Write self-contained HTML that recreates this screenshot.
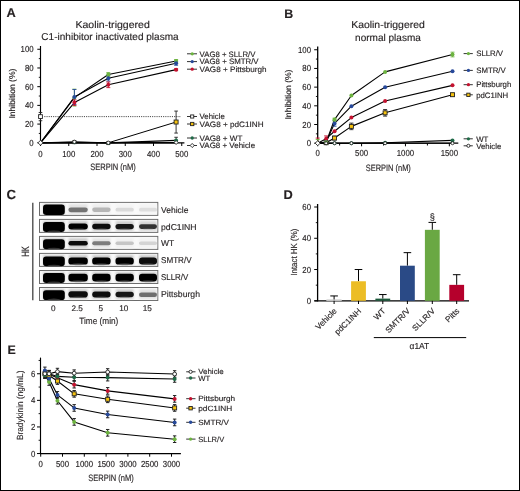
<!DOCTYPE html>
<html><head><meta charset="utf-8"><style>
html,body{margin:0;padding:0;background:#fff;}
svg{display:block;font-family:"Liberation Sans", sans-serif;text-rendering:geometricPrecision;}
</style></head><body>
<svg width="520" height="491" viewBox="0 0 520 491" fill="#231f20">
<rect x="0" y="0" width="520" height="491" fill="#fff"/>
<line x1="40.50" y1="46.00" x2="40.50" y2="143.40" stroke="#000" stroke-width="1.15"/>
<line x1="37.30" y1="142.80" x2="40.50" y2="142.80" stroke="#000" stroke-width="1"/>
<line x1="37.30" y1="124.09" x2="40.50" y2="124.09" stroke="#000" stroke-width="1"/>
<line x1="37.30" y1="105.38" x2="40.50" y2="105.38" stroke="#000" stroke-width="1"/>
<line x1="37.30" y1="86.68" x2="40.50" y2="86.68" stroke="#000" stroke-width="1"/>
<line x1="37.30" y1="67.97" x2="40.50" y2="67.97" stroke="#000" stroke-width="1"/>
<line x1="37.30" y1="49.26" x2="40.50" y2="49.26" stroke="#000" stroke-width="1"/>
<line x1="38.80" y1="133.45" x2="40.50" y2="133.45" stroke="#000" stroke-width="0.9"/>
<line x1="38.80" y1="114.74" x2="40.50" y2="114.74" stroke="#000" stroke-width="0.9"/>
<line x1="38.80" y1="96.03" x2="40.50" y2="96.03" stroke="#000" stroke-width="0.9"/>
<line x1="38.80" y1="77.32" x2="40.50" y2="77.32" stroke="#000" stroke-width="0.9"/>
<line x1="38.80" y1="58.61" x2="40.50" y2="58.61" stroke="#000" stroke-width="0.9"/>
<line x1="39.90" y1="142.80" x2="184.40" y2="142.80" stroke="#000" stroke-width="1.2"/>
<line x1="40.50" y1="142.80" x2="40.50" y2="146.00" stroke="#000" stroke-width="1.0"/>
<line x1="68.75" y1="142.80" x2="68.75" y2="146.00" stroke="#000" stroke-width="1.0"/>
<line x1="97.00" y1="142.80" x2="97.00" y2="146.00" stroke="#000" stroke-width="1.0"/>
<line x1="125.25" y1="142.80" x2="125.25" y2="146.00" stroke="#000" stroke-width="1.0"/>
<line x1="153.50" y1="142.80" x2="153.50" y2="146.00" stroke="#000" stroke-width="1.0"/>
<line x1="181.75" y1="142.80" x2="181.75" y2="146.00" stroke="#000" stroke-width="1.0"/>
<line x1="44.30" y1="116.61" x2="181.00" y2="116.61" stroke="#444" stroke-width="1.0" stroke-dasharray="1.1 1.1"/>
<polyline points="40.50,142.80 74.40,142.80 108.30,142.80 176.10,142.80" fill="none" stroke="#000" stroke-width="1.6" stroke-linejoin="round"/>
<polyline points="40.50,142.80 74.40,142.33 108.30,142.80 176.10,140.46" fill="none" stroke="#000" stroke-width="1.2" stroke-linejoin="round"/>
<polyline points="40.50,142.80 74.40,141.86 108.30,142.80 176.10,122.03" fill="none" stroke="#000" stroke-width="1.0" stroke-linejoin="round"/>
<line x1="176.10" y1="111.09" x2="176.10" y2="133.07" stroke="#222" stroke-width="0.9"/>
<line x1="174.30" y1="111.09" x2="177.90" y2="111.09" stroke="#222" stroke-width="0.9"/>
<line x1="174.30" y1="133.07" x2="177.90" y2="133.07" stroke="#222" stroke-width="0.9"/>
<line x1="176.10" y1="137.28" x2="176.10" y2="140.46" stroke="#222" stroke-width="0.9"/>
<line x1="174.30" y1="137.28" x2="177.90" y2="137.28" stroke="#222" stroke-width="0.9"/>
<line x1="174.30" y1="140.46" x2="177.90" y2="140.46" stroke="#222" stroke-width="0.9"/>
<line x1="40.50" y1="112.49" x2="40.50" y2="120.72" stroke="#222" stroke-width="0.9"/>
<line x1="38.70" y1="112.49" x2="42.30" y2="112.49" stroke="#222" stroke-width="0.9"/>
<line x1="38.70" y1="120.72" x2="42.30" y2="120.72" stroke="#222" stroke-width="0.9"/>
<rect x="38.60" y="114.71" width="3.80" height="3.80" fill="#fff" stroke="#222" stroke-width="0.9"/>
<polyline points="40.50,142.80 74.40,97.62 108.30,74.52 176.10,60.95" fill="none" stroke="#000" stroke-width="1.1" stroke-linejoin="round"/>
<polyline points="40.50,142.80 74.40,96.97 108.30,78.26 176.10,63.20" fill="none" stroke="#000" stroke-width="1.1" stroke-linejoin="round"/>
<polyline points="40.50,142.80 74.40,102.58 108.30,84.81 176.10,69.65" fill="none" stroke="#000" stroke-width="1.1" stroke-linejoin="round"/>
<line x1="74.40" y1="89.20" x2="74.40" y2="106.04" stroke="#6cb33f" stroke-width="0.9"/>
<line x1="72.40" y1="89.20" x2="76.40" y2="89.20" stroke="#6cb33f" stroke-width="0.9"/>
<line x1="72.40" y1="106.04" x2="76.40" y2="106.04" stroke="#6cb33f" stroke-width="0.9"/>
<line x1="108.30" y1="72.65" x2="108.30" y2="76.39" stroke="#6cb33f" stroke-width="0.9"/>
<line x1="106.30" y1="72.65" x2="110.30" y2="72.65" stroke="#6cb33f" stroke-width="0.9"/>
<line x1="106.30" y1="76.39" x2="110.30" y2="76.39" stroke="#6cb33f" stroke-width="0.9"/>
<line x1="176.10" y1="59.55" x2="176.10" y2="62.36" stroke="#6cb33f" stroke-width="0.9"/>
<line x1="174.10" y1="59.55" x2="178.10" y2="59.55" stroke="#6cb33f" stroke-width="0.9"/>
<line x1="174.10" y1="62.36" x2="178.10" y2="62.36" stroke="#6cb33f" stroke-width="0.9"/>
<line x1="74.40" y1="89.48" x2="74.40" y2="104.45" stroke="#27499a" stroke-width="0.9"/>
<line x1="72.40" y1="89.48" x2="76.40" y2="89.48" stroke="#27499a" stroke-width="0.9"/>
<line x1="72.40" y1="104.45" x2="76.40" y2="104.45" stroke="#27499a" stroke-width="0.9"/>
<line x1="108.30" y1="75.45" x2="108.30" y2="81.06" stroke="#27499a" stroke-width="0.9"/>
<line x1="106.30" y1="75.45" x2="110.30" y2="75.45" stroke="#27499a" stroke-width="0.9"/>
<line x1="106.30" y1="81.06" x2="110.30" y2="81.06" stroke="#27499a" stroke-width="0.9"/>
<line x1="176.10" y1="61.14" x2="176.10" y2="65.26" stroke="#27499a" stroke-width="0.9"/>
<line x1="174.10" y1="61.14" x2="178.10" y2="61.14" stroke="#27499a" stroke-width="0.9"/>
<line x1="174.10" y1="65.26" x2="178.10" y2="65.26" stroke="#27499a" stroke-width="0.9"/>
<line x1="74.40" y1="99.77" x2="74.40" y2="105.38" stroke="#c4122f" stroke-width="0.9"/>
<line x1="72.40" y1="99.77" x2="76.40" y2="99.77" stroke="#c4122f" stroke-width="0.9"/>
<line x1="72.40" y1="105.38" x2="76.40" y2="105.38" stroke="#c4122f" stroke-width="0.9"/>
<line x1="108.30" y1="82.00" x2="108.30" y2="87.61" stroke="#c4122f" stroke-width="0.9"/>
<line x1="106.30" y1="82.00" x2="110.30" y2="82.00" stroke="#c4122f" stroke-width="0.9"/>
<line x1="106.30" y1="87.61" x2="110.30" y2="87.61" stroke="#c4122f" stroke-width="0.9"/>
<line x1="176.10" y1="68.72" x2="176.10" y2="70.59" stroke="#c4122f" stroke-width="0.9"/>
<line x1="174.10" y1="68.72" x2="178.10" y2="68.72" stroke="#c4122f" stroke-width="0.9"/>
<line x1="174.10" y1="70.59" x2="178.10" y2="70.59" stroke="#c4122f" stroke-width="0.9"/>
<circle cx="74.40" cy="97.62" r="2.00" fill="#6cb33f"/>
<circle cx="108.30" cy="74.52" r="2.00" fill="#6cb33f"/>
<circle cx="176.10" cy="60.95" r="2.00" fill="#6cb33f"/>
<circle cx="74.40" cy="96.97" r="2.00" fill="#27499a"/>
<circle cx="108.30" cy="78.26" r="2.00" fill="#27499a"/>
<circle cx="176.10" cy="63.20" r="2.00" fill="#27499a"/>
<circle cx="74.40" cy="102.58" r="2.00" fill="#c4122f"/>
<circle cx="108.30" cy="84.81" r="2.00" fill="#c4122f"/>
<circle cx="176.10" cy="69.65" r="2.00" fill="#c4122f"/>
<rect x="72.90" y="140.66" width="3.00" height="3.00" fill="#f5c20f" stroke="#222" stroke-width="0.9"/>
<circle cx="74.40" cy="142.46" r="1.70" fill="#1f6a47"/>
<circle cx="74.40" cy="141.86" r="1.71" fill="#fff" stroke="#222" stroke-width="0.9"/>
<rect x="106.80" y="141.60" width="3.00" height="3.00" fill="#f5c20f" stroke="#222" stroke-width="0.9"/>
<circle cx="108.30" cy="143.40" r="1.70" fill="#1f6a47"/>
<circle cx="108.30" cy="142.80" r="1.71" fill="#fff" stroke="#222" stroke-width="0.9"/>
<rect x="174.10" y="120.03" width="4.00" height="4.00" fill="#f5c20f" stroke="#222" stroke-width="0.9"/>
<circle cx="176.10" cy="140.46" r="2.00" fill="#1f6a47"/>
<path d="M176.10 140.50L178.10 142.50L176.10 144.50L174.10 142.50Z" fill="#fff" stroke="#222" stroke-width="0.9"/>
<path d="M40.50 140.30L43.00 142.80L40.50 145.30L38.00 142.80Z" fill="#fff" stroke="#222" stroke-width="0.9"/>
<line x1="187.00" y1="53.80" x2="197.00" y2="53.80" stroke="#333" stroke-width="1"/>
<circle cx="192.20" cy="53.80" r="1.64" fill="#6cb33f"/>
<line x1="187.00" y1="61.60" x2="197.00" y2="61.60" stroke="#333" stroke-width="1"/>
<circle cx="192.20" cy="61.60" r="1.64" fill="#27499a"/>
<line x1="187.00" y1="69.20" x2="197.00" y2="69.20" stroke="#333" stroke-width="1"/>
<circle cx="192.20" cy="69.20" r="1.64" fill="#c4122f"/>
<line x1="187.00" y1="116.50" x2="197.00" y2="116.50" stroke="#333" stroke-width="1"/>
<rect x="190.64" y="114.94" width="3.12" height="3.12" fill="#fff" stroke="#222" stroke-width="0.9"/>
<line x1="187.00" y1="124.00" x2="197.00" y2="124.00" stroke="#333" stroke-width="1"/>
<rect x="190.56" y="122.36" width="3.28" height="3.28" fill="#f5c20f" stroke="#222" stroke-width="0.9"/>
<line x1="187.00" y1="138.00" x2="197.00" y2="138.00" stroke="#333" stroke-width="1"/>
<circle cx="192.20" cy="138.00" r="1.64" fill="#1f6a47"/>
<line x1="187.00" y1="145.50" x2="197.00" y2="145.50" stroke="#333" stroke-width="1"/>
<path d="M192.20 143.45L194.25 145.50L192.20 147.55L190.15 145.50Z" fill="#fff" stroke="#222" stroke-width="0.9"/>
<line x1="317.70" y1="46.40" x2="317.70" y2="143.80" stroke="#000" stroke-width="1.3"/>
<line x1="314.20" y1="143.20" x2="317.70" y2="143.20" stroke="#000" stroke-width="1"/>
<line x1="314.20" y1="124.51" x2="317.70" y2="124.51" stroke="#000" stroke-width="1"/>
<line x1="314.20" y1="105.82" x2="317.70" y2="105.82" stroke="#000" stroke-width="1"/>
<line x1="314.20" y1="87.13" x2="317.70" y2="87.13" stroke="#000" stroke-width="1"/>
<line x1="314.20" y1="68.44" x2="317.70" y2="68.44" stroke="#000" stroke-width="1"/>
<line x1="314.20" y1="49.75" x2="317.70" y2="49.75" stroke="#000" stroke-width="1"/>
<line x1="315.90" y1="133.85" x2="317.70" y2="133.85" stroke="#000" stroke-width="0.9"/>
<line x1="315.90" y1="115.16" x2="317.70" y2="115.16" stroke="#000" stroke-width="0.9"/>
<line x1="315.90" y1="96.47" x2="317.70" y2="96.47" stroke="#000" stroke-width="0.9"/>
<line x1="315.90" y1="77.78" x2="317.70" y2="77.78" stroke="#000" stroke-width="0.9"/>
<line x1="315.90" y1="59.09" x2="317.70" y2="59.09" stroke="#000" stroke-width="0.9"/>
<line x1="317.10" y1="143.20" x2="458.30" y2="143.20" stroke="#000" stroke-width="1.2"/>
<line x1="317.70" y1="143.20" x2="317.70" y2="146.30" stroke="#000" stroke-width="1.0"/>
<line x1="339.64" y1="143.20" x2="339.64" y2="145.50" stroke="#000" stroke-width="1.0"/>
<line x1="361.58" y1="143.20" x2="361.58" y2="146.30" stroke="#000" stroke-width="1.0"/>
<line x1="383.52" y1="143.20" x2="383.52" y2="145.50" stroke="#000" stroke-width="1.0"/>
<line x1="405.46" y1="143.20" x2="405.46" y2="146.30" stroke="#000" stroke-width="1.0"/>
<line x1="427.40" y1="143.20" x2="427.40" y2="145.50" stroke="#000" stroke-width="1.0"/>
<line x1="449.34" y1="143.20" x2="449.34" y2="146.30" stroke="#000" stroke-width="1.0"/>
<polyline points="317.70,143.20 326.12,143.20 334.55,143.20 351.40,143.20 385.10,142.73 452.50,140.40" fill="none" stroke="#000" stroke-width="1.1" stroke-linejoin="round"/>
<polyline points="317.70,143.20 326.12,142.73 334.55,138.06 351.40,126.38 385.10,112.83 452.50,94.70" fill="none" stroke="#000" stroke-width="1.1" stroke-linejoin="round"/>
<polyline points="317.70,143.20 326.12,138.71 334.55,131.24 351.40,117.59 385.10,100.96 452.50,85.35" fill="none" stroke="#000" stroke-width="1.1" stroke-linejoin="round"/>
<polyline points="317.70,143.20 326.12,142.27 334.55,123.39 351.40,106.19 385.10,87.32 452.50,71.24" fill="none" stroke="#000" stroke-width="1.1" stroke-linejoin="round"/>
<polyline points="317.70,143.20 326.12,142.27 334.55,119.56 351.40,95.54 385.10,71.90 452.50,54.52" fill="none" stroke="#000" stroke-width="1.1" stroke-linejoin="round"/>
<polyline points="317.70,143.20 326.12,143.20 334.55,143.20 351.40,143.20 385.10,143.20 452.50,143.20" fill="none" stroke="#000" stroke-width="1.1" stroke-linejoin="round"/>
<line x1="334.55" y1="136.19" x2="334.55" y2="139.93" stroke="#222" stroke-width="0.9"/>
<line x1="332.55" y1="136.19" x2="336.55" y2="136.19" stroke="#222" stroke-width="0.9"/>
<line x1="332.55" y1="139.93" x2="336.55" y2="139.93" stroke="#222" stroke-width="0.9"/>
<line x1="351.40" y1="123.11" x2="351.40" y2="129.65" stroke="#222" stroke-width="0.9"/>
<line x1="349.40" y1="123.11" x2="353.40" y2="123.11" stroke="#222" stroke-width="0.9"/>
<line x1="349.40" y1="129.65" x2="353.40" y2="129.65" stroke="#222" stroke-width="0.9"/>
<line x1="385.10" y1="109.56" x2="385.10" y2="116.10" stroke="#222" stroke-width="0.9"/>
<line x1="383.10" y1="109.56" x2="387.10" y2="109.56" stroke="#222" stroke-width="0.9"/>
<line x1="383.10" y1="116.10" x2="387.10" y2="116.10" stroke="#222" stroke-width="0.9"/>
<line x1="452.50" y1="93.30" x2="452.50" y2="96.10" stroke="#222" stroke-width="0.9"/>
<line x1="450.50" y1="93.30" x2="454.50" y2="93.30" stroke="#222" stroke-width="0.9"/>
<line x1="450.50" y1="96.10" x2="454.50" y2="96.10" stroke="#222" stroke-width="0.9"/>
<line x1="317.70" y1="138.06" x2="317.70" y2="143.20" stroke="#c4122f" stroke-width="0.9"/>
<line x1="315.70" y1="138.06" x2="319.70" y2="138.06" stroke="#c4122f" stroke-width="0.9"/>
<line x1="315.70" y1="143.20" x2="319.70" y2="143.20" stroke="#c4122f" stroke-width="0.9"/>
<line x1="326.12" y1="135.91" x2="326.12" y2="141.52" stroke="#c4122f" stroke-width="0.9"/>
<line x1="324.12" y1="135.91" x2="328.12" y2="135.91" stroke="#c4122f" stroke-width="0.9"/>
<line x1="324.12" y1="141.52" x2="328.12" y2="141.52" stroke="#c4122f" stroke-width="0.9"/>
<line x1="334.55" y1="120.59" x2="334.55" y2="126.19" stroke="#27499a" stroke-width="0.9"/>
<line x1="332.55" y1="120.59" x2="336.55" y2="120.59" stroke="#27499a" stroke-width="0.9"/>
<line x1="332.55" y1="126.19" x2="336.55" y2="126.19" stroke="#27499a" stroke-width="0.9"/>
<line x1="317.70" y1="139.46" x2="317.70" y2="143.20" stroke="#6cb33f" stroke-width="0.9"/>
<line x1="315.70" y1="139.46" x2="319.70" y2="139.46" stroke="#6cb33f" stroke-width="0.9"/>
<line x1="315.70" y1="143.20" x2="319.70" y2="143.20" stroke="#6cb33f" stroke-width="0.9"/>
<line x1="334.55" y1="118.16" x2="334.55" y2="120.96" stroke="#6cb33f" stroke-width="0.9"/>
<line x1="332.55" y1="118.16" x2="336.55" y2="118.16" stroke="#6cb33f" stroke-width="0.9"/>
<line x1="332.55" y1="120.96" x2="336.55" y2="120.96" stroke="#6cb33f" stroke-width="0.9"/>
<line x1="452.50" y1="52.18" x2="452.50" y2="56.85" stroke="#6cb33f" stroke-width="0.9"/>
<line x1="450.50" y1="52.18" x2="454.50" y2="52.18" stroke="#6cb33f" stroke-width="0.9"/>
<line x1="450.50" y1="56.85" x2="454.50" y2="56.85" stroke="#6cb33f" stroke-width="0.9"/>
<circle cx="326.12" cy="143.20" r="2.00" fill="#1f6a47"/>
<circle cx="334.55" cy="143.20" r="2.00" fill="#1f6a47"/>
<circle cx="351.40" cy="143.20" r="2.00" fill="#1f6a47"/>
<circle cx="385.10" cy="142.73" r="2.00" fill="#1f6a47"/>
<circle cx="452.50" cy="140.40" r="2.00" fill="#1f6a47"/>
<rect x="324.12" y="140.73" width="4.00" height="4.00" fill="#f5c20f" stroke="#222" stroke-width="0.9"/>
<rect x="332.55" y="136.06" width="4.00" height="4.00" fill="#f5c20f" stroke="#222" stroke-width="0.9"/>
<rect x="349.40" y="124.38" width="4.00" height="4.00" fill="#f5c20f" stroke="#222" stroke-width="0.9"/>
<rect x="383.10" y="110.83" width="4.00" height="4.00" fill="#f5c20f" stroke="#222" stroke-width="0.9"/>
<rect x="450.50" y="92.70" width="4.00" height="4.00" fill="#f5c20f" stroke="#222" stroke-width="0.9"/>
<circle cx="326.12" cy="138.71" r="2.00" fill="#c4122f"/>
<circle cx="334.55" cy="131.24" r="2.00" fill="#c4122f"/>
<circle cx="351.40" cy="117.59" r="2.00" fill="#c4122f"/>
<circle cx="385.10" cy="100.96" r="2.00" fill="#c4122f"/>
<circle cx="452.50" cy="85.35" r="2.00" fill="#c4122f"/>
<circle cx="326.12" cy="142.27" r="2.00" fill="#27499a"/>
<circle cx="334.55" cy="123.39" r="2.00" fill="#27499a"/>
<circle cx="351.40" cy="106.19" r="2.00" fill="#27499a"/>
<circle cx="385.10" cy="87.32" r="2.00" fill="#27499a"/>
<circle cx="452.50" cy="71.24" r="2.00" fill="#27499a"/>
<circle cx="326.12" cy="142.27" r="2.00" fill="#6cb33f"/>
<circle cx="334.55" cy="119.56" r="2.00" fill="#6cb33f"/>
<circle cx="351.40" cy="95.54" r="2.00" fill="#6cb33f"/>
<circle cx="385.10" cy="71.90" r="2.00" fill="#6cb33f"/>
<circle cx="452.50" cy="54.52" r="2.00" fill="#6cb33f"/>
<circle cx="326.12" cy="143.20" r="1.52" fill="#fff" stroke="#222" stroke-width="0.9"/>
<circle cx="334.55" cy="143.20" r="1.52" fill="#fff" stroke="#222" stroke-width="0.9"/>
<circle cx="351.40" cy="143.20" r="1.52" fill="#fff" stroke="#222" stroke-width="0.9"/>
<circle cx="385.10" cy="143.20" r="1.52" fill="#fff" stroke="#222" stroke-width="0.9"/>
<circle cx="452.50" cy="143.20" r="1.52" fill="#fff" stroke="#222" stroke-width="0.9"/>
<path d="M317.70 140.70L320.20 143.20L317.70 145.70L315.20 143.20Z" fill="#fff" stroke="#222" stroke-width="0.9"/>
<line x1="463.60" y1="53.60" x2="472.80" y2="53.60" stroke="#333" stroke-width="1"/>
<circle cx="468.40" cy="53.60" r="1.64" fill="#6cb33f"/>
<line x1="463.60" y1="70.40" x2="472.80" y2="70.40" stroke="#333" stroke-width="1"/>
<circle cx="468.40" cy="70.40" r="1.64" fill="#27499a"/>
<line x1="463.60" y1="84.70" x2="472.80" y2="84.70" stroke="#333" stroke-width="1"/>
<circle cx="468.40" cy="84.70" r="1.64" fill="#c4122f"/>
<line x1="463.60" y1="94.80" x2="472.80" y2="94.80" stroke="#333" stroke-width="1"/>
<rect x="466.76" y="93.16" width="3.28" height="3.28" fill="#f5c20f" stroke="#222" stroke-width="0.9"/>
<line x1="463.60" y1="138.80" x2="472.80" y2="138.80" stroke="#333" stroke-width="1"/>
<circle cx="468.40" cy="138.80" r="1.64" fill="#1f6a47"/>
<line x1="463.60" y1="145.80" x2="472.80" y2="145.80" stroke="#333" stroke-width="1"/>
<circle cx="468.40" cy="145.80" r="1.56" fill="#fff" stroke="#222" stroke-width="0.9"/>
<line x1="32.80" y1="202.70" x2="32.80" y2="300.30" stroke="#444" stroke-width="1.3"/>
<defs><filter id="bl" x="-20%" y="-50%" width="140%" height="200%"><feGaussianBlur stdDeviation="0.75"/></filter><filter id="bl2" x="-30%" y="-80%" width="160%" height="260%"><feGaussianBlur stdDeviation="1.0"/></filter></defs>
<rect x="39.5" y="202.40" width="118.3" height="13" fill="#f9f9f9" stroke="#6a6a6a" stroke-width="1"/>
<rect x="43.30" y="204.20" width="21.20" height="9.6" fill="rgb(195,195,195)" filter="url(#bl2)"/>
<rect x="68.70" y="204.20" width="18.80" height="9.6" fill="rgb(226,226,226)" filter="url(#bl2)"/>
<rect x="92.50" y="204.20" width="17.80" height="9.6" fill="rgb(238,238,238)" filter="url(#bl2)"/>
<rect x="115.80" y="204.20" width="17.70" height="9.6" fill="rgb(244,244,244)" filter="url(#bl2)"/>
<rect x="139.30" y="204.20" width="17.40" height="9.6" fill="rgb(244,244,244)" filter="url(#bl2)"/>
<rect x="43.00" y="204.50" width="21.80" height="10.50" rx="3.20" fill="rgb(0,0,0)" filter="url(#bl)"/>
<rect x="68.40" y="207.40" width="19.40" height="4.80" rx="2.40" fill="rgb(115,115,115)" filter="url(#bl)"/>
<rect x="92.20" y="207.60" width="18.40" height="4.30" rx="2.15" fill="rgb(182,182,182)" filter="url(#bl)"/>
<rect x="115.50" y="207.80" width="18.30" height="3.80" rx="1.90" fill="rgb(218,218,218)" filter="url(#bl)"/>
<rect x="139.00" y="207.80" width="18.00" height="3.80" rx="1.90" fill="rgb(222,222,222)" filter="url(#bl)"/>
<rect x="39.5" y="219.40" width="118.3" height="13" fill="#f9f9f9" stroke="#6a6a6a" stroke-width="1"/>
<rect x="43.30" y="221.20" width="21.20" height="9.6" fill="rgb(195,195,195)" filter="url(#bl2)"/>
<rect x="68.70" y="221.20" width="18.80" height="9.6" fill="rgb(198,198,198)" filter="url(#bl2)"/>
<rect x="92.50" y="221.20" width="17.80" height="9.6" fill="rgb(201,201,201)" filter="url(#bl2)"/>
<rect x="115.80" y="221.20" width="17.70" height="9.6" fill="rgb(204,204,204)" filter="url(#bl2)"/>
<rect x="139.30" y="221.20" width="17.40" height="9.6" fill="rgb(212,212,212)" filter="url(#bl2)"/>
<rect x="43.00" y="222.00" width="21.80" height="10.00" rx="3.20" fill="rgb(0,0,0)" filter="url(#bl)"/>
<ellipse cx="53.90" cy="231.70" rx="6.54" ry="1.20" fill="#555" opacity="0.6" filter="url(#bl)"/>
<rect x="68.40" y="223.40" width="19.40" height="6.00" rx="3.00" fill="rgb(6,6,6)" filter="url(#bl)"/>
<ellipse cx="78.10" cy="229.10" rx="5.82" ry="0.72" fill="#555" opacity="0.6" filter="url(#bl)"/>
<rect x="92.20" y="223.80" width="18.40" height="5.40" rx="2.70" fill="rgb(12,12,12)" filter="url(#bl)"/>
<ellipse cx="101.40" cy="228.90" rx="5.52" ry="0.72" fill="#555" opacity="0.6" filter="url(#bl)"/>
<rect x="115.50" y="224.00" width="18.30" height="5.20" rx="2.60" fill="rgb(20,20,20)" filter="url(#bl)"/>
<ellipse cx="124.65" cy="228.90" rx="5.49" ry="0.72" fill="#555" opacity="0.6" filter="url(#bl)"/>
<rect x="139.00" y="224.20" width="18.00" height="4.80" rx="2.40" fill="rgb(50,50,50)" filter="url(#bl)"/>
<ellipse cx="148.00" cy="228.70" rx="5.40" ry="0.60" fill="#555" opacity="0.6" filter="url(#bl)"/>
<rect x="39.5" y="236.40" width="118.3" height="13" fill="#f9f9f9" stroke="#6a6a6a" stroke-width="1"/>
<rect x="43.30" y="238.20" width="21.20" height="9.6" fill="rgb(195,195,195)" filter="url(#bl2)"/>
<rect x="68.70" y="238.20" width="18.80" height="9.6" fill="rgb(202,202,202)" filter="url(#bl2)"/>
<rect x="92.50" y="238.20" width="17.80" height="9.6" fill="rgb(228,228,228)" filter="url(#bl2)"/>
<rect x="115.80" y="238.20" width="17.70" height="9.6" fill="rgb(241,241,241)" filter="url(#bl2)"/>
<rect x="139.30" y="238.20" width="17.40" height="9.6" fill="rgb(243,243,243)" filter="url(#bl2)"/>
<rect x="43.00" y="239.20" width="21.80" height="10.00" rx="3.20" fill="rgb(0,0,0)" filter="url(#bl)"/>
<ellipse cx="53.90" cy="248.90" rx="6.54" ry="1.20" fill="#555" opacity="0.6" filter="url(#bl)"/>
<rect x="68.40" y="240.90" width="19.40" height="4.50" rx="2.25" fill="rgb(16,16,16)" filter="url(#bl)"/>
<rect x="92.20" y="241.30" width="18.40" height="4.00" rx="2.00" fill="rgb(125,125,125)" filter="url(#bl)"/>
<rect x="115.50" y="241.60" width="18.30" height="3.50" rx="1.75" fill="rgb(198,198,198)" filter="url(#bl)"/>
<rect x="139.00" y="241.60" width="18.00" height="3.50" rx="1.75" fill="rgb(212,212,212)" filter="url(#bl)"/>
<rect x="39.5" y="253.40" width="118.3" height="13" fill="#f9f9f9" stroke="#6a6a6a" stroke-width="1"/>
<rect x="43.30" y="255.20" width="21.20" height="9.6" fill="rgb(195,195,195)" filter="url(#bl2)"/>
<rect x="68.70" y="255.20" width="18.80" height="9.6" fill="rgb(198,198,198)" filter="url(#bl2)"/>
<rect x="92.50" y="255.20" width="17.80" height="9.6" fill="rgb(198,198,198)" filter="url(#bl2)"/>
<rect x="115.80" y="255.20" width="17.70" height="9.6" fill="rgb(196,196,196)" filter="url(#bl2)"/>
<rect x="139.30" y="255.20" width="17.40" height="9.6" fill="rgb(199,199,199)" filter="url(#bl2)"/>
<rect x="43.00" y="256.40" width="21.80" height="9.80" rx="3.20" fill="rgb(0,0,0)" filter="url(#bl)"/>
<ellipse cx="53.90" cy="265.90" rx="6.54" ry="1.20" fill="#555" opacity="0.6" filter="url(#bl)"/>
<rect x="68.40" y="257.40" width="19.40" height="7.20" rx="3.20" fill="rgb(4,4,4)" filter="url(#bl)"/>
<ellipse cx="78.10" cy="264.30" rx="5.82" ry="0.96" fill="#555" opacity="0.6" filter="url(#bl)"/>
<rect x="92.20" y="257.40" width="18.40" height="7.20" rx="3.20" fill="rgb(4,4,4)" filter="url(#bl)"/>
<ellipse cx="101.40" cy="264.30" rx="5.52" ry="0.96" fill="#555" opacity="0.6" filter="url(#bl)"/>
<rect x="115.50" y="257.40" width="18.30" height="7.20" rx="3.20" fill="rgb(2,2,2)" filter="url(#bl)"/>
<ellipse cx="124.65" cy="264.30" rx="5.49" ry="0.96" fill="#555" opacity="0.6" filter="url(#bl)"/>
<rect x="139.00" y="257.60" width="18.00" height="6.80" rx="3.20" fill="rgb(8,8,8)" filter="url(#bl)"/>
<ellipse cx="148.00" cy="264.10" rx="5.40" ry="0.84" fill="#555" opacity="0.6" filter="url(#bl)"/>
<rect x="39.5" y="270.50" width="118.3" height="13" fill="#f9f9f9" stroke="#6a6a6a" stroke-width="1"/>
<rect x="43.30" y="272.30" width="21.20" height="9.6" fill="rgb(195,195,195)" filter="url(#bl2)"/>
<rect x="68.70" y="272.30" width="18.80" height="9.6" fill="rgb(196,196,196)" filter="url(#bl2)"/>
<rect x="92.50" y="272.30" width="17.80" height="9.6" fill="rgb(196,196,196)" filter="url(#bl2)"/>
<rect x="115.80" y="272.30" width="17.70" height="9.6" fill="rgb(196,196,196)" filter="url(#bl2)"/>
<rect x="139.30" y="272.30" width="17.40" height="9.6" fill="rgb(198,198,198)" filter="url(#bl2)"/>
<rect x="43.00" y="273.10" width="21.80" height="9.80" rx="3.20" fill="rgb(0,0,0)" filter="url(#bl)"/>
<ellipse cx="53.90" cy="282.60" rx="6.54" ry="1.20" fill="#555" opacity="0.6" filter="url(#bl)"/>
<rect x="68.40" y="273.70" width="19.40" height="7.80" rx="3.20" fill="rgb(2,2,2)" filter="url(#bl)"/>
<ellipse cx="78.10" cy="281.20" rx="5.82" ry="0.96" fill="#555" opacity="0.6" filter="url(#bl)"/>
<rect x="92.20" y="273.70" width="18.40" height="7.80" rx="3.20" fill="rgb(2,2,2)" filter="url(#bl)"/>
<ellipse cx="101.40" cy="281.20" rx="5.52" ry="0.96" fill="#555" opacity="0.6" filter="url(#bl)"/>
<rect x="115.50" y="273.70" width="18.30" height="7.80" rx="3.20" fill="rgb(2,2,2)" filter="url(#bl)"/>
<ellipse cx="124.65" cy="281.20" rx="5.49" ry="0.96" fill="#555" opacity="0.6" filter="url(#bl)"/>
<rect x="139.00" y="273.70" width="18.00" height="7.80" rx="3.20" fill="rgb(4,4,4)" filter="url(#bl)"/>
<ellipse cx="148.00" cy="281.20" rx="5.40" ry="0.96" fill="#555" opacity="0.6" filter="url(#bl)"/>
<rect x="39.5" y="287.50" width="118.3" height="13" fill="#f9f9f9" stroke="#6a6a6a" stroke-width="1"/>
<rect x="43.30" y="289.30" width="21.20" height="9.6" fill="rgb(195,195,195)" filter="url(#bl2)"/>
<rect x="68.70" y="289.30" width="18.80" height="9.6" fill="rgb(200,200,200)" filter="url(#bl2)"/>
<rect x="92.50" y="289.30" width="17.80" height="9.6" fill="rgb(202,202,202)" filter="url(#bl2)"/>
<rect x="115.80" y="289.30" width="17.70" height="9.6" fill="rgb(205,205,205)" filter="url(#bl2)"/>
<rect x="139.30" y="289.30" width="17.40" height="9.6" fill="rgb(225,225,225)" filter="url(#bl2)"/>
<rect x="43.00" y="290.30" width="21.80" height="9.80" rx="3.20" fill="rgb(0,0,0)" filter="url(#bl)"/>
<ellipse cx="53.90" cy="299.80" rx="6.54" ry="1.20" fill="#555" opacity="0.6" filter="url(#bl)"/>
<rect x="68.40" y="291.30" width="19.40" height="6.20" rx="3.10" fill="rgb(10,10,10)" filter="url(#bl)"/>
<ellipse cx="78.10" cy="297.20" rx="5.82" ry="0.72" fill="#555" opacity="0.6" filter="url(#bl)"/>
<rect x="92.20" y="291.50" width="18.40" height="6.00" rx="3.00" fill="rgb(14,14,14)" filter="url(#bl)"/>
<ellipse cx="101.40" cy="297.20" rx="5.52" ry="0.72" fill="#555" opacity="0.6" filter="url(#bl)"/>
<rect x="115.50" y="291.70" width="18.30" height="5.60" rx="2.80" fill="rgb(24,24,24)" filter="url(#bl)"/>
<ellipse cx="124.65" cy="297.00" rx="5.49" ry="0.60" fill="#555" opacity="0.6" filter="url(#bl)"/>
<rect x="139.00" y="292.50" width="18.00" height="4.60" rx="2.30" fill="rgb(110,110,110)" filter="url(#bl)"/>
<line x1="317.60" y1="204.00" x2="317.60" y2="301.40" stroke="#000" stroke-width="1.3"/>
<line x1="314.20" y1="300.80" x2="317.60" y2="300.80" stroke="#000" stroke-width="1"/>
<line x1="314.20" y1="269.53" x2="317.60" y2="269.53" stroke="#000" stroke-width="1"/>
<line x1="314.20" y1="238.27" x2="317.60" y2="238.27" stroke="#000" stroke-width="1"/>
<line x1="314.20" y1="207.00" x2="317.60" y2="207.00" stroke="#000" stroke-width="1"/>
<line x1="315.80" y1="285.17" x2="317.60" y2="285.17" stroke="#000" stroke-width="0.9"/>
<line x1="315.80" y1="253.90" x2="317.60" y2="253.90" stroke="#000" stroke-width="0.9"/>
<line x1="315.80" y1="222.64" x2="317.60" y2="222.64" stroke="#000" stroke-width="0.9"/>
<line x1="314.40" y1="300.80" x2="469.00" y2="300.80" stroke="#000" stroke-width="1.3"/>
<line x1="334.10" y1="299.86" x2="334.10" y2="295.95" stroke="#000" stroke-width="1"/>
<line x1="330.30" y1="295.95" x2="337.90" y2="295.95" stroke="#000" stroke-width="1"/>
<rect x="326.70" y="299.86" width="14.8" height="0.94" fill="#f4f4f4" stroke="#bbb" stroke-width="0.6"/>
<line x1="334.10" y1="300.80" x2="334.10" y2="304.00" stroke="#000" stroke-width="1.0"/>
<line x1="358.50" y1="281.26" x2="358.50" y2="269.53" stroke="#000" stroke-width="1"/>
<line x1="354.70" y1="269.53" x2="362.30" y2="269.53" stroke="#000" stroke-width="1"/>
<rect x="351.10" y="281.26" width="14.8" height="19.54" fill="#ecbd25"/>
<line x1="358.50" y1="300.80" x2="358.50" y2="304.00" stroke="#000" stroke-width="1.0"/>
<line x1="382.80" y1="298.61" x2="382.80" y2="294.55" stroke="#000" stroke-width="1"/>
<line x1="379.00" y1="294.55" x2="386.60" y2="294.55" stroke="#000" stroke-width="1"/>
<rect x="375.40" y="298.61" width="14.8" height="2.19" fill="#1d5a3c"/>
<line x1="382.80" y1="300.80" x2="382.80" y2="304.00" stroke="#000" stroke-width="1.0"/>
<line x1="407.40" y1="265.70" x2="407.40" y2="252.65" stroke="#000" stroke-width="1"/>
<line x1="403.60" y1="252.65" x2="411.20" y2="252.65" stroke="#000" stroke-width="1"/>
<rect x="400.00" y="265.70" width="14.8" height="35.10" fill="#2a4a86"/>
<line x1="407.40" y1="300.80" x2="407.40" y2="304.00" stroke="#000" stroke-width="1.0"/>
<line x1="432.30" y1="229.83" x2="432.30" y2="222.40" stroke="#000" stroke-width="1"/>
<line x1="428.50" y1="222.40" x2="436.10" y2="222.40" stroke="#000" stroke-width="1"/>
<rect x="424.90" y="229.83" width="14.8" height="70.97" fill="#6aa843"/>
<line x1="432.30" y1="300.80" x2="432.30" y2="304.00" stroke="#000" stroke-width="1.0"/>
<line x1="456.70" y1="284.85" x2="456.70" y2="274.69" stroke="#000" stroke-width="1"/>
<line x1="452.90" y1="274.69" x2="460.50" y2="274.69" stroke="#000" stroke-width="1"/>
<rect x="449.30" y="284.85" width="14.8" height="15.95" fill="#b5002c"/>
<line x1="456.70" y1="300.80" x2="456.70" y2="304.00" stroke="#000" stroke-width="1.0"/>
<line x1="373.80" y1="337.60" x2="466.20" y2="337.60" stroke="#000" stroke-width="1"/>
<line x1="40.50" y1="357.60" x2="40.50" y2="454.10" stroke="#000" stroke-width="1.15"/>
<line x1="37.00" y1="453.55" x2="40.50" y2="453.55" stroke="#000" stroke-width="1"/>
<line x1="37.00" y1="426.95" x2="40.50" y2="426.95" stroke="#000" stroke-width="1"/>
<line x1="37.00" y1="400.35" x2="40.50" y2="400.35" stroke="#000" stroke-width="1"/>
<line x1="37.00" y1="373.75" x2="40.50" y2="373.75" stroke="#000" stroke-width="1"/>
<line x1="38.60" y1="440.25" x2="40.50" y2="440.25" stroke="#000" stroke-width="0.9"/>
<line x1="38.60" y1="413.65" x2="40.50" y2="413.65" stroke="#000" stroke-width="0.9"/>
<line x1="38.60" y1="387.05" x2="40.50" y2="387.05" stroke="#000" stroke-width="0.9"/>
<line x1="38.60" y1="360.45" x2="40.50" y2="360.45" stroke="#000" stroke-width="0.9"/>
<line x1="39.90" y1="453.55" x2="180.90" y2="453.55" stroke="#000" stroke-width="1.2"/>
<line x1="40.70" y1="453.55" x2="40.70" y2="456.70" stroke="#000" stroke-width="1.0"/>
<line x1="62.50" y1="453.55" x2="62.50" y2="456.70" stroke="#000" stroke-width="1.0"/>
<line x1="84.30" y1="453.55" x2="84.30" y2="456.70" stroke="#000" stroke-width="1.0"/>
<line x1="106.10" y1="453.55" x2="106.10" y2="456.70" stroke="#000" stroke-width="1.0"/>
<line x1="127.90" y1="453.55" x2="127.90" y2="456.70" stroke="#000" stroke-width="1.0"/>
<line x1="149.70" y1="453.55" x2="149.70" y2="456.70" stroke="#000" stroke-width="1.0"/>
<line x1="171.50" y1="453.55" x2="171.50" y2="456.70" stroke="#000" stroke-width="1.0"/>
<polyline points="44.89,373.75 49.07,374.42 57.44,377.74 74.18,384.66 107.67,390.91 174.64,398.89" fill="none" stroke="#000" stroke-width="1.1" stroke-linejoin="round"/>
<polyline points="44.89,373.75 49.07,375.48 57.44,381.06 74.18,393.83 107.67,399.29 174.64,407.93" fill="none" stroke="#000" stroke-width="1.1" stroke-linejoin="round"/>
<polyline points="44.89,375.08 49.07,382.00 57.44,400.75 74.18,421.90 107.67,432.80 174.64,439.19" fill="none" stroke="#000" stroke-width="1.1" stroke-linejoin="round"/>
<polyline points="44.89,370.43 49.07,378.40 57.44,394.90 74.18,407.93 107.67,414.45 174.64,422.43" fill="none" stroke="#000" stroke-width="1.1" stroke-linejoin="round"/>
<polyline points="44.89,375.08 49.07,373.75 57.44,376.41 74.18,377.21 107.67,377.61 174.64,378.94" fill="none" stroke="#000" stroke-width="1.1" stroke-linejoin="round"/>
<polyline points="44.89,373.75 49.07,373.75 57.44,371.62 74.18,373.22 107.67,372.02 174.64,374.02" fill="none" stroke="#000" stroke-width="1.1" stroke-linejoin="round"/>
<line x1="44.89" y1="370.43" x2="44.89" y2="377.07" stroke="#222" stroke-width="1.0"/>
<line x1="43.19" y1="370.43" x2="46.59" y2="370.43" stroke="#222" stroke-width="1.0"/>
<line x1="43.19" y1="377.07" x2="46.59" y2="377.07" stroke="#222" stroke-width="1.0"/>
<line x1="49.07" y1="371.09" x2="49.07" y2="377.74" stroke="#222" stroke-width="1.0"/>
<line x1="47.37" y1="371.09" x2="50.77" y2="371.09" stroke="#222" stroke-width="1.0"/>
<line x1="47.37" y1="377.74" x2="50.77" y2="377.74" stroke="#222" stroke-width="1.0"/>
<line x1="57.44" y1="374.42" x2="57.44" y2="381.06" stroke="#222" stroke-width="1.0"/>
<line x1="55.74" y1="374.42" x2="59.14" y2="374.42" stroke="#222" stroke-width="1.0"/>
<line x1="55.74" y1="381.06" x2="59.14" y2="381.06" stroke="#222" stroke-width="1.0"/>
<line x1="74.18" y1="381.33" x2="74.18" y2="387.98" stroke="#222" stroke-width="1.0"/>
<line x1="72.48" y1="381.33" x2="75.88" y2="381.33" stroke="#222" stroke-width="1.0"/>
<line x1="72.48" y1="387.98" x2="75.88" y2="387.98" stroke="#222" stroke-width="1.0"/>
<line x1="107.67" y1="387.58" x2="107.67" y2="394.23" stroke="#222" stroke-width="1.0"/>
<line x1="105.97" y1="387.58" x2="109.37" y2="387.58" stroke="#222" stroke-width="1.0"/>
<line x1="105.97" y1="394.23" x2="109.37" y2="394.23" stroke="#222" stroke-width="1.0"/>
<line x1="174.64" y1="395.56" x2="174.64" y2="402.21" stroke="#222" stroke-width="1.0"/>
<line x1="172.94" y1="395.56" x2="176.34" y2="395.56" stroke="#222" stroke-width="1.0"/>
<line x1="172.94" y1="402.21" x2="176.34" y2="402.21" stroke="#222" stroke-width="1.0"/>
<line x1="44.89" y1="370.43" x2="44.89" y2="377.07" stroke="#222" stroke-width="1.0"/>
<line x1="43.19" y1="370.43" x2="46.59" y2="370.43" stroke="#222" stroke-width="1.0"/>
<line x1="43.19" y1="377.07" x2="46.59" y2="377.07" stroke="#222" stroke-width="1.0"/>
<line x1="49.07" y1="372.15" x2="49.07" y2="378.80" stroke="#222" stroke-width="1.0"/>
<line x1="47.37" y1="372.15" x2="50.77" y2="372.15" stroke="#222" stroke-width="1.0"/>
<line x1="47.37" y1="378.80" x2="50.77" y2="378.80" stroke="#222" stroke-width="1.0"/>
<line x1="57.44" y1="377.74" x2="57.44" y2="384.39" stroke="#222" stroke-width="1.0"/>
<line x1="55.74" y1="377.74" x2="59.14" y2="377.74" stroke="#222" stroke-width="1.0"/>
<line x1="55.74" y1="384.39" x2="59.14" y2="384.39" stroke="#222" stroke-width="1.0"/>
<line x1="74.18" y1="390.51" x2="74.18" y2="397.16" stroke="#222" stroke-width="1.0"/>
<line x1="72.48" y1="390.51" x2="75.88" y2="390.51" stroke="#222" stroke-width="1.0"/>
<line x1="72.48" y1="397.16" x2="75.88" y2="397.16" stroke="#222" stroke-width="1.0"/>
<line x1="107.67" y1="395.96" x2="107.67" y2="402.61" stroke="#222" stroke-width="1.0"/>
<line x1="105.97" y1="395.96" x2="109.37" y2="395.96" stroke="#222" stroke-width="1.0"/>
<line x1="105.97" y1="402.61" x2="109.37" y2="402.61" stroke="#222" stroke-width="1.0"/>
<line x1="174.64" y1="404.61" x2="174.64" y2="411.26" stroke="#222" stroke-width="1.0"/>
<line x1="172.94" y1="404.61" x2="176.34" y2="404.61" stroke="#222" stroke-width="1.0"/>
<line x1="172.94" y1="411.26" x2="176.34" y2="411.26" stroke="#222" stroke-width="1.0"/>
<line x1="44.89" y1="371.75" x2="44.89" y2="378.40" stroke="#222" stroke-width="1.0"/>
<line x1="43.19" y1="371.75" x2="46.59" y2="371.75" stroke="#222" stroke-width="1.0"/>
<line x1="43.19" y1="378.40" x2="46.59" y2="378.40" stroke="#222" stroke-width="1.0"/>
<line x1="49.07" y1="378.67" x2="49.07" y2="385.32" stroke="#222" stroke-width="1.0"/>
<line x1="47.37" y1="378.67" x2="50.77" y2="378.67" stroke="#222" stroke-width="1.0"/>
<line x1="47.37" y1="385.32" x2="50.77" y2="385.32" stroke="#222" stroke-width="1.0"/>
<line x1="57.44" y1="397.42" x2="57.44" y2="404.07" stroke="#222" stroke-width="1.0"/>
<line x1="55.74" y1="397.42" x2="59.14" y2="397.42" stroke="#222" stroke-width="1.0"/>
<line x1="55.74" y1="404.07" x2="59.14" y2="404.07" stroke="#222" stroke-width="1.0"/>
<line x1="74.18" y1="418.57" x2="74.18" y2="425.22" stroke="#222" stroke-width="1.0"/>
<line x1="72.48" y1="418.57" x2="75.88" y2="418.57" stroke="#222" stroke-width="1.0"/>
<line x1="72.48" y1="425.22" x2="75.88" y2="425.22" stroke="#222" stroke-width="1.0"/>
<line x1="107.67" y1="429.48" x2="107.67" y2="436.13" stroke="#222" stroke-width="1.0"/>
<line x1="105.97" y1="429.48" x2="109.37" y2="429.48" stroke="#222" stroke-width="1.0"/>
<line x1="105.97" y1="436.13" x2="109.37" y2="436.13" stroke="#222" stroke-width="1.0"/>
<line x1="174.64" y1="435.86" x2="174.64" y2="442.51" stroke="#222" stroke-width="1.0"/>
<line x1="172.94" y1="435.86" x2="176.34" y2="435.86" stroke="#222" stroke-width="1.0"/>
<line x1="172.94" y1="442.51" x2="176.34" y2="442.51" stroke="#222" stroke-width="1.0"/>
<line x1="44.89" y1="367.10" x2="44.89" y2="373.75" stroke="#222" stroke-width="1.0"/>
<line x1="43.19" y1="367.10" x2="46.59" y2="367.10" stroke="#222" stroke-width="1.0"/>
<line x1="43.19" y1="373.75" x2="46.59" y2="373.75" stroke="#222" stroke-width="1.0"/>
<line x1="49.07" y1="375.08" x2="49.07" y2="381.73" stroke="#222" stroke-width="1.0"/>
<line x1="47.37" y1="375.08" x2="50.77" y2="375.08" stroke="#222" stroke-width="1.0"/>
<line x1="47.37" y1="381.73" x2="50.77" y2="381.73" stroke="#222" stroke-width="1.0"/>
<line x1="57.44" y1="391.57" x2="57.44" y2="398.22" stroke="#222" stroke-width="1.0"/>
<line x1="55.74" y1="391.57" x2="59.14" y2="391.57" stroke="#222" stroke-width="1.0"/>
<line x1="55.74" y1="398.22" x2="59.14" y2="398.22" stroke="#222" stroke-width="1.0"/>
<line x1="74.18" y1="404.61" x2="74.18" y2="411.26" stroke="#222" stroke-width="1.0"/>
<line x1="72.48" y1="404.61" x2="75.88" y2="404.61" stroke="#222" stroke-width="1.0"/>
<line x1="72.48" y1="411.26" x2="75.88" y2="411.26" stroke="#222" stroke-width="1.0"/>
<line x1="107.67" y1="411.12" x2="107.67" y2="417.77" stroke="#222" stroke-width="1.0"/>
<line x1="105.97" y1="411.12" x2="109.37" y2="411.12" stroke="#222" stroke-width="1.0"/>
<line x1="105.97" y1="417.77" x2="109.37" y2="417.77" stroke="#222" stroke-width="1.0"/>
<line x1="174.64" y1="419.10" x2="174.64" y2="425.75" stroke="#222" stroke-width="1.0"/>
<line x1="172.94" y1="419.10" x2="176.34" y2="419.10" stroke="#222" stroke-width="1.0"/>
<line x1="172.94" y1="425.75" x2="176.34" y2="425.75" stroke="#222" stroke-width="1.0"/>
<line x1="44.89" y1="371.75" x2="44.89" y2="378.40" stroke="#222" stroke-width="1.0"/>
<line x1="43.19" y1="371.75" x2="46.59" y2="371.75" stroke="#222" stroke-width="1.0"/>
<line x1="43.19" y1="378.40" x2="46.59" y2="378.40" stroke="#222" stroke-width="1.0"/>
<line x1="49.07" y1="370.43" x2="49.07" y2="377.07" stroke="#222" stroke-width="1.0"/>
<line x1="47.37" y1="370.43" x2="50.77" y2="370.43" stroke="#222" stroke-width="1.0"/>
<line x1="47.37" y1="377.07" x2="50.77" y2="377.07" stroke="#222" stroke-width="1.0"/>
<line x1="57.44" y1="373.09" x2="57.44" y2="379.74" stroke="#222" stroke-width="1.0"/>
<line x1="55.74" y1="373.09" x2="59.14" y2="373.09" stroke="#222" stroke-width="1.0"/>
<line x1="55.74" y1="379.74" x2="59.14" y2="379.74" stroke="#222" stroke-width="1.0"/>
<line x1="74.18" y1="373.88" x2="74.18" y2="380.53" stroke="#222" stroke-width="1.0"/>
<line x1="72.48" y1="373.88" x2="75.88" y2="373.88" stroke="#222" stroke-width="1.0"/>
<line x1="72.48" y1="380.53" x2="75.88" y2="380.53" stroke="#222" stroke-width="1.0"/>
<line x1="107.67" y1="374.28" x2="107.67" y2="380.93" stroke="#222" stroke-width="1.0"/>
<line x1="105.97" y1="374.28" x2="109.37" y2="374.28" stroke="#222" stroke-width="1.0"/>
<line x1="105.97" y1="380.93" x2="109.37" y2="380.93" stroke="#222" stroke-width="1.0"/>
<line x1="174.64" y1="375.61" x2="174.64" y2="382.26" stroke="#222" stroke-width="1.0"/>
<line x1="172.94" y1="375.61" x2="176.34" y2="375.61" stroke="#222" stroke-width="1.0"/>
<line x1="172.94" y1="382.26" x2="176.34" y2="382.26" stroke="#222" stroke-width="1.0"/>
<line x1="44.89" y1="370.43" x2="44.89" y2="377.07" stroke="#222" stroke-width="1.0"/>
<line x1="43.19" y1="370.43" x2="46.59" y2="370.43" stroke="#222" stroke-width="1.0"/>
<line x1="43.19" y1="377.07" x2="46.59" y2="377.07" stroke="#222" stroke-width="1.0"/>
<line x1="49.07" y1="370.43" x2="49.07" y2="377.07" stroke="#222" stroke-width="1.0"/>
<line x1="47.37" y1="370.43" x2="50.77" y2="370.43" stroke="#222" stroke-width="1.0"/>
<line x1="47.37" y1="377.07" x2="50.77" y2="377.07" stroke="#222" stroke-width="1.0"/>
<line x1="57.44" y1="368.30" x2="57.44" y2="374.95" stroke="#222" stroke-width="1.0"/>
<line x1="55.74" y1="368.30" x2="59.14" y2="368.30" stroke="#222" stroke-width="1.0"/>
<line x1="55.74" y1="374.95" x2="59.14" y2="374.95" stroke="#222" stroke-width="1.0"/>
<line x1="74.18" y1="369.89" x2="74.18" y2="376.54" stroke="#222" stroke-width="1.0"/>
<line x1="72.48" y1="369.89" x2="75.88" y2="369.89" stroke="#222" stroke-width="1.0"/>
<line x1="72.48" y1="376.54" x2="75.88" y2="376.54" stroke="#222" stroke-width="1.0"/>
<line x1="107.67" y1="368.70" x2="107.67" y2="375.35" stroke="#222" stroke-width="1.0"/>
<line x1="105.97" y1="368.70" x2="109.37" y2="368.70" stroke="#222" stroke-width="1.0"/>
<line x1="105.97" y1="375.35" x2="109.37" y2="375.35" stroke="#222" stroke-width="1.0"/>
<line x1="174.64" y1="370.69" x2="174.64" y2="377.34" stroke="#222" stroke-width="1.0"/>
<line x1="172.94" y1="370.69" x2="176.34" y2="370.69" stroke="#222" stroke-width="1.0"/>
<line x1="172.94" y1="377.34" x2="176.34" y2="377.34" stroke="#222" stroke-width="1.0"/>
<circle cx="44.89" cy="373.75" r="2.00" fill="#c4122f"/>
<circle cx="49.07" cy="374.42" r="2.00" fill="#c4122f"/>
<circle cx="57.44" cy="377.74" r="2.00" fill="#c4122f"/>
<circle cx="74.18" cy="384.66" r="2.00" fill="#c4122f"/>
<circle cx="107.67" cy="390.91" r="2.00" fill="#c4122f"/>
<circle cx="174.64" cy="398.89" r="2.00" fill="#c4122f"/>
<rect x="42.89" y="371.75" width="4.00" height="4.00" fill="#f5c20f" stroke="#222" stroke-width="0.9"/>
<rect x="47.07" y="373.48" width="4.00" height="4.00" fill="#f5c20f" stroke="#222" stroke-width="0.9"/>
<rect x="55.44" y="379.06" width="4.00" height="4.00" fill="#f5c20f" stroke="#222" stroke-width="0.9"/>
<rect x="72.18" y="391.83" width="4.00" height="4.00" fill="#f5c20f" stroke="#222" stroke-width="0.9"/>
<rect x="105.67" y="397.29" width="4.00" height="4.00" fill="#f5c20f" stroke="#222" stroke-width="0.9"/>
<rect x="172.64" y="405.93" width="4.00" height="4.00" fill="#f5c20f" stroke="#222" stroke-width="0.9"/>
<circle cx="44.89" cy="375.08" r="2.00" fill="#6cb33f"/>
<circle cx="49.07" cy="382.00" r="2.00" fill="#6cb33f"/>
<circle cx="57.44" cy="400.75" r="2.00" fill="#6cb33f"/>
<circle cx="74.18" cy="421.90" r="2.00" fill="#6cb33f"/>
<circle cx="107.67" cy="432.80" r="2.00" fill="#6cb33f"/>
<circle cx="174.64" cy="439.19" r="2.00" fill="#6cb33f"/>
<circle cx="44.89" cy="370.43" r="2.00" fill="#27499a"/>
<circle cx="49.07" cy="378.40" r="2.00" fill="#27499a"/>
<circle cx="57.44" cy="394.90" r="2.00" fill="#27499a"/>
<circle cx="74.18" cy="407.93" r="2.00" fill="#27499a"/>
<circle cx="107.67" cy="414.45" r="2.00" fill="#27499a"/>
<circle cx="174.64" cy="422.43" r="2.00" fill="#27499a"/>
<circle cx="44.89" cy="375.08" r="2.00" fill="#1f6a47"/>
<circle cx="49.07" cy="373.75" r="2.00" fill="#1f6a47"/>
<circle cx="57.44" cy="376.41" r="2.00" fill="#1f6a47"/>
<circle cx="74.18" cy="377.21" r="2.00" fill="#1f6a47"/>
<circle cx="107.67" cy="377.61" r="2.00" fill="#1f6a47"/>
<circle cx="174.64" cy="378.94" r="2.00" fill="#1f6a47"/>
<circle cx="44.89" cy="373.75" r="1.90" fill="#fff" stroke="#222" stroke-width="0.9"/>
<circle cx="49.07" cy="373.75" r="1.90" fill="#fff" stroke="#222" stroke-width="0.9"/>
<circle cx="57.44" cy="371.62" r="1.90" fill="#fff" stroke="#222" stroke-width="0.9"/>
<circle cx="74.18" cy="373.22" r="1.90" fill="#fff" stroke="#222" stroke-width="0.9"/>
<circle cx="107.67" cy="372.02" r="1.90" fill="#fff" stroke="#222" stroke-width="0.9"/>
<circle cx="174.64" cy="374.02" r="1.90" fill="#fff" stroke="#222" stroke-width="0.9"/>
<line x1="186.20" y1="371.80" x2="195.50" y2="371.80" stroke="#333" stroke-width="1"/>
<circle cx="190.60" cy="371.80" r="1.61" fill="#fff" stroke="#222" stroke-width="0.9"/>
<line x1="186.20" y1="378.00" x2="195.50" y2="378.00" stroke="#333" stroke-width="1"/>
<circle cx="190.60" cy="378.00" r="1.70" fill="#1f6a47"/>
<line x1="186.20" y1="398.70" x2="195.50" y2="398.70" stroke="#333" stroke-width="1"/>
<circle cx="190.60" cy="398.70" r="1.70" fill="#c4122f"/>
<line x1="186.20" y1="408.20" x2="195.50" y2="408.20" stroke="#333" stroke-width="1"/>
<rect x="188.90" y="406.50" width="3.40" height="3.40" fill="#f5c20f" stroke="#222" stroke-width="0.9"/>
<line x1="186.20" y1="422.30" x2="195.50" y2="422.30" stroke="#333" stroke-width="1"/>
<circle cx="190.60" cy="422.30" r="1.70" fill="#27499a"/>
<line x1="186.20" y1="439.10" x2="195.50" y2="439.10" stroke="#333" stroke-width="1"/>
<circle cx="190.60" cy="439.10" r="1.70" fill="#6cb33f"/>
<g opacity="0.99" stroke="#231f20" stroke-width="0.15">
<text x="6.60" y="16.90" font-size="12.8" font-weight="bold">A</text>
<text x="112.60" y="27.80" font-size="10" text-anchor="middle" textLength="74.4" lengthAdjust="spacingAndGlyphs">Kaolin-triggered</text>
<text x="110.00" y="40.40" font-size="10" text-anchor="middle" textLength="137.3" lengthAdjust="spacingAndGlyphs">C1-inhibitor inactivated plasma</text>
<text x="33.60" y="145.80" font-size="8.7" text-anchor="end" textLength="4.35" lengthAdjust="spacingAndGlyphs">0</text>
<text x="33.60" y="127.09" font-size="8.7" text-anchor="end" textLength="8.7" lengthAdjust="spacingAndGlyphs">20</text>
<text x="33.60" y="108.38" font-size="8.7" text-anchor="end" textLength="8.7" lengthAdjust="spacingAndGlyphs">40</text>
<text x="33.60" y="89.68" font-size="8.7" text-anchor="end" textLength="8.7" lengthAdjust="spacingAndGlyphs">60</text>
<text x="33.60" y="70.97" font-size="8.7" text-anchor="end" textLength="8.7" lengthAdjust="spacingAndGlyphs">80</text>
<text x="33.60" y="52.26" font-size="8.7" text-anchor="end" textLength="13.05" lengthAdjust="spacingAndGlyphs">100</text>
<text x="40.50" y="156.80" font-size="8.7" text-anchor="middle" textLength="4.35" lengthAdjust="spacingAndGlyphs">0</text>
<text x="68.75" y="156.80" font-size="8.7" text-anchor="middle" textLength="13.05" lengthAdjust="spacingAndGlyphs">100</text>
<text x="97.00" y="156.80" font-size="8.7" text-anchor="middle" textLength="13.05" lengthAdjust="spacingAndGlyphs">200</text>
<text x="125.25" y="156.80" font-size="8.7" text-anchor="middle" textLength="13.05" lengthAdjust="spacingAndGlyphs">300</text>
<text x="153.50" y="156.80" font-size="8.7" text-anchor="middle" textLength="13.05" lengthAdjust="spacingAndGlyphs">400</text>
<text x="181.75" y="156.80" font-size="8.7" text-anchor="middle" textLength="13.05" lengthAdjust="spacingAndGlyphs">500</text>
<text x="113.00" y="170.20" font-size="9.2" text-anchor="middle" textLength="45.6" lengthAdjust="spacingAndGlyphs">SERPIN (nM)</text>
<text x="14.80" y="93.60" font-size="8.4" text-anchor="middle" textLength="50.0" lengthAdjust="spacingAndGlyphs" transform="rotate(-90 14.80 93.60)">Inhibition (%)</text>
<text x="199.60" y="56.50" font-size="7.8" textLength="55.8" lengthAdjust="spacingAndGlyphs">VAG8 + SLLR/V</text>
<text x="199.60" y="64.30" font-size="7.8" textLength="59" lengthAdjust="spacingAndGlyphs">VAG8 + SMTR/V</text>
<text x="199.60" y="71.90" font-size="7.8" textLength="67" lengthAdjust="spacingAndGlyphs">VAG8 + Pittsburgh</text>
<text x="199.60" y="119.20" font-size="7.8" textLength="25.2" lengthAdjust="spacingAndGlyphs">Vehicle</text>
<text x="199.60" y="126.70" font-size="7.8" textLength="64" lengthAdjust="spacingAndGlyphs">VAG8 + pdC1INH</text>
<text x="199.60" y="140.70" font-size="7.8" textLength="42.8" lengthAdjust="spacingAndGlyphs">VAG8 + WT</text>
<text x="199.60" y="148.20" font-size="7.8" textLength="55.5" lengthAdjust="spacingAndGlyphs">VAG8 + Vehicle</text>
<text x="284.30" y="17.60" font-size="12.4" font-weight="bold">B</text>
<text x="388.00" y="28.20" font-size="10" text-anchor="middle" textLength="73.6" lengthAdjust="spacingAndGlyphs">Kaolin-triggered</text>
<text x="388.00" y="40.50" font-size="10" text-anchor="middle" textLength="65.8" lengthAdjust="spacingAndGlyphs">normal plasma</text>
<text x="311.00" y="146.20" font-size="8.7" text-anchor="end" textLength="4.35" lengthAdjust="spacingAndGlyphs">0</text>
<text x="311.00" y="127.51" font-size="8.7" text-anchor="end" textLength="8.7" lengthAdjust="spacingAndGlyphs">20</text>
<text x="311.00" y="108.82" font-size="8.7" text-anchor="end" textLength="8.7" lengthAdjust="spacingAndGlyphs">40</text>
<text x="311.00" y="90.13" font-size="8.7" text-anchor="end" textLength="8.7" lengthAdjust="spacingAndGlyphs">60</text>
<text x="311.00" y="71.44" font-size="8.7" text-anchor="end" textLength="8.7" lengthAdjust="spacingAndGlyphs">80</text>
<text x="311.00" y="52.75" font-size="8.7" text-anchor="end" textLength="13.05" lengthAdjust="spacingAndGlyphs">100</text>
<text x="317.70" y="156.40" font-size="8.7" text-anchor="middle" textLength="4.35" lengthAdjust="spacingAndGlyphs">0</text>
<text x="361.58" y="156.40" font-size="8.7" text-anchor="middle" textLength="13.05" lengthAdjust="spacingAndGlyphs">500</text>
<text x="405.46" y="156.40" font-size="8.7" text-anchor="middle" textLength="17.4" lengthAdjust="spacingAndGlyphs">1000</text>
<text x="449.34" y="156.40" font-size="8.7" text-anchor="middle" textLength="17.4" lengthAdjust="spacingAndGlyphs">1500</text>
<text x="388.30" y="170.60" font-size="9.2" text-anchor="middle" textLength="45.1" lengthAdjust="spacingAndGlyphs">SERPIN (nM)</text>
<text x="291.40" y="94.50" font-size="8.4" text-anchor="middle" textLength="50.0" lengthAdjust="spacingAndGlyphs" transform="rotate(-90 291.40 94.50)">Inhibition (%)</text>
<text x="476.20" y="56.30" font-size="7.8">SLLR/V</text>
<text x="476.20" y="73.10" font-size="7.8">SMTR/V</text>
<text x="476.20" y="87.40" font-size="7.8">Pittsburgh</text>
<text x="476.20" y="97.50" font-size="7.8">pdC1INH</text>
<text x="476.20" y="141.50" font-size="7.8">WT</text>
<text x="476.20" y="148.50" font-size="7.8">Vehicle</text>
<text x="6.60" y="198.90" font-size="13.2" font-weight="bold">C</text>
<text x="29.00" y="251.50" font-size="10.6" text-anchor="middle" textLength="10.6" lengthAdjust="spacingAndGlyphs" transform="rotate(-90 29.00 251.50)">HK</text>
<text x="161.00" y="212.90" font-size="8.5" textLength="27.4" lengthAdjust="spacingAndGlyphs">Vehicle</text>
<text x="161.00" y="229.70" font-size="8.5" textLength="35.6" lengthAdjust="spacingAndGlyphs">pdC1INH</text>
<text x="161.00" y="246.10" font-size="8.5" textLength="13.2" lengthAdjust="spacingAndGlyphs">WT</text>
<text x="161.00" y="263.10" font-size="8.5" textLength="30.6" lengthAdjust="spacingAndGlyphs">SMTR/V</text>
<text x="161.00" y="280.20" font-size="8.5" textLength="27.2" lengthAdjust="spacingAndGlyphs">SLLR/V</text>
<text x="161.00" y="297.00" font-size="8.5" textLength="39.0" lengthAdjust="spacingAndGlyphs">Pittsburgh</text>
<text x="53.40" y="311.00" font-size="8.2" text-anchor="middle">0</text>
<text x="77.20" y="311.00" font-size="8.2" text-anchor="middle">2.5</text>
<text x="100.90" y="311.00" font-size="8.2" text-anchor="middle">5</text>
<text x="123.80" y="311.00" font-size="8.2" text-anchor="middle">10</text>
<text x="147.20" y="311.00" font-size="8.2" text-anchor="middle">15</text>
<text x="98.80" y="324.40" font-size="9.2" text-anchor="middle" textLength="39" lengthAdjust="spacingAndGlyphs">Time (min)</text>
<text x="283.60" y="199.10" font-size="12.8" font-weight="bold">D</text>
<text x="311.00" y="303.80" font-size="8.7" text-anchor="end" textLength="4.35" lengthAdjust="spacingAndGlyphs">0</text>
<text x="311.00" y="272.53" font-size="8.7" text-anchor="end" textLength="8.7" lengthAdjust="spacingAndGlyphs">20</text>
<text x="311.00" y="241.27" font-size="8.7" text-anchor="end" textLength="8.7" lengthAdjust="spacingAndGlyphs">40</text>
<text x="311.00" y="210.00" font-size="8.7" text-anchor="end" textLength="8.7" lengthAdjust="spacingAndGlyphs">60</text>
<text x="296.60" y="252.20" font-size="8.8" text-anchor="middle" textLength="47.0" lengthAdjust="spacingAndGlyphs" transform="rotate(-90 296.60 252.20)">Intact HK (%)</text>
<text x="337.30" y="311.50" font-size="8.2" text-anchor="end" transform="rotate(-45 337.30 311.50)">Vehicle</text>
<text x="361.70" y="311.50" font-size="8.2" text-anchor="end" transform="rotate(-45 361.70 311.50)">pdC1INH</text>
<text x="386.00" y="311.50" font-size="8.2" text-anchor="end" transform="rotate(-45 386.00 311.50)">WT</text>
<text x="410.60" y="311.50" font-size="8.2" text-anchor="end" transform="rotate(-45 410.60 311.50)">SMTR/V</text>
<text x="435.50" y="311.50" font-size="8.2" text-anchor="end" transform="rotate(-45 435.50 311.50)">SLLR/V</text>
<text x="459.90" y="311.50" font-size="8.2" text-anchor="end" transform="rotate(-45 459.90 311.50)">Pitts</text>
<text x="432.20" y="219.80" font-size="9.2" text-anchor="middle">§</text>
<text x="419.40" y="348.50" font-size="8.8" text-anchor="middle" textLength="19.8" lengthAdjust="spacingAndGlyphs">α1AT</text>
<text x="7.60" y="353.90" font-size="12.4" font-weight="bold">E</text>
<text x="35.30" y="456.55" font-size="8.7" text-anchor="end" textLength="4.35" lengthAdjust="spacingAndGlyphs">0</text>
<text x="35.30" y="429.95" font-size="8.7" text-anchor="end" textLength="4.35" lengthAdjust="spacingAndGlyphs">2</text>
<text x="35.30" y="403.35" font-size="8.7" text-anchor="end" textLength="4.35" lengthAdjust="spacingAndGlyphs">4</text>
<text x="35.30" y="376.75" font-size="8.7" text-anchor="end" textLength="4.35" lengthAdjust="spacingAndGlyphs">6</text>
<text x="40.70" y="467.20" font-size="8.7" text-anchor="middle" textLength="4.35" lengthAdjust="spacingAndGlyphs">0</text>
<text x="62.50" y="467.20" font-size="8.7" text-anchor="middle" textLength="13.05" lengthAdjust="spacingAndGlyphs">500</text>
<text x="84.30" y="467.20" font-size="8.7" text-anchor="middle" textLength="17.4" lengthAdjust="spacingAndGlyphs">1000</text>
<text x="106.10" y="467.20" font-size="8.7" text-anchor="middle" textLength="17.4" lengthAdjust="spacingAndGlyphs">1500</text>
<text x="127.90" y="467.20" font-size="8.7" text-anchor="middle" textLength="17.4" lengthAdjust="spacingAndGlyphs">3000</text>
<text x="149.70" y="467.20" font-size="8.7" text-anchor="middle" textLength="17.4" lengthAdjust="spacingAndGlyphs">2500</text>
<text x="171.50" y="467.20" font-size="8.7" text-anchor="middle" textLength="17.4" lengthAdjust="spacingAndGlyphs">3000</text>
<text x="111.00" y="480.60" font-size="9.2" text-anchor="middle" textLength="45.5" lengthAdjust="spacingAndGlyphs">SERPIN (nM)</text>
<text x="23.20" y="405.30" font-size="8.9" text-anchor="middle" textLength="69.5" lengthAdjust="spacingAndGlyphs" transform="rotate(-90 23.20 405.30)">Bradykinin (ng/mL)</text>
<text x="198.20" y="374.00" font-size="7.6" textLength="25.6" lengthAdjust="spacingAndGlyphs">Vehicle</text>
<text x="198.20" y="381.30" font-size="7.6" textLength="12.0" lengthAdjust="spacingAndGlyphs">WT</text>
<text x="198.20" y="401.20" font-size="7.6" textLength="37.0" lengthAdjust="spacingAndGlyphs">Pittsburgh</text>
<text x="198.20" y="410.60" font-size="7.6" textLength="34.0" lengthAdjust="spacingAndGlyphs">pdC1INH</text>
<text x="198.20" y="424.80" font-size="7.6" textLength="30.8" lengthAdjust="spacingAndGlyphs">SMTR/V</text>
<text x="198.20" y="441.60" font-size="7.6" textLength="26.0" lengthAdjust="spacingAndGlyphs">SLLR/V</text>
</g>
<rect x="0.5" y="0.5" width="519" height="490" fill="none" stroke="#000" stroke-width="1"/>
</svg>
</body></html>
